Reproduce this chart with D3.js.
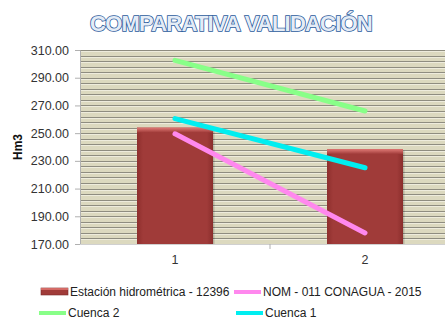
<!DOCTYPE html>
<html>
<head>
<meta charset="utf-8">
<script src="https://cdn.jsdelivr.net/npm/d3@7/dist/d3.min.js"></script>
<style>
  html, body { margin: 0; padding: 0; background: #fff; }
  svg { display: block; font-family: "Liberation Sans", Arial, sans-serif; }
</style>
</head>
<body>
<svg id="chart" width="445" height="324"></svg>
<script>
// Chart data
const categories = ["1", "2"];
const estacion = [254, 238.5];          // Estación hidrométrica - 12396 (bars)
const nom011 = [249.5, 178];            // NOM - 011 CONAGUA - 2015
const cuenca2 = [302.5, 266];           // Cuenca 2
const cuenca1 = [260.5, 225];           // Cuenca 1
const yTicks = [170, 190, 210, 230, 250, 270, 290, 310];
const gridStep = 4;

const seriesLines = [
  { name: "NOM - 011 CONAGUA - 2015", values: nom011, color: "#ff88ee" },
  { name: "Cuenca 2", values: cuenca2, color: "#88ff88" },
  { name: "Cuenca 1", values: cuenca1, color: "#00eef0" }
];

const svg = d3.select("#chart");
const plot = { left: 80, right: 460, top: 50, bottom: 244 };

const x = d3.scaleBand().domain(categories).range([plot.left, plot.right]);
const y = d3.scaleLinear().domain([170, 310]).range([plot.bottom, plot.top]);

const defs = svg.append("defs");
const barGrad = defs.append("linearGradient").attr("id", "barGrad")
  .attr("x1", 0).attr("x2", 1).attr("y1", 0).attr("y2", 0);
barGrad.append("stop").attr("offset", "0%").attr("stop-color", "#8e2f2d");
barGrad.append("stop").attr("offset", "8%").attr("stop-color", "#a03b39");
barGrad.append("stop").attr("offset", "92%").attr("stop-color", "#a03b39");
barGrad.append("stop").attr("offset", "100%").attr("stop-color", "#8a2e2c");
const topGrad = defs.append("linearGradient").attr("id", "topGrad")
  .attr("x1", 0).attr("x2", 0).attr("y1", 0).attr("y2", 1);
topGrad.append("stop").attr("offset", "0%").attr("stop-color", "#e07a76");
topGrad.append("stop").attr("offset", "100%").attr("stop-color", "#a03b39");

// Plot background
svg.append("rect")
  .attr("x", plot.left).attr("y", plot.top)
  .attr("width", plot.right - plot.left).attr("height", plot.bottom - plot.top)
  .attr("fill", "#dcd9bf");

// Horizontal grid lines every gridStep units
const gridVals = d3.range(170 + gridStep, 310 + 0.001, gridStep);
const grid = svg.append("g");
grid.selectAll("line.hl").data(gridVals).join("line")
  .attr("x1", plot.left).attr("x2", plot.right)
  .attr("y1", d => Math.round(y(d)) + 1.5).attr("y2", d => Math.round(y(d)) + 1.5)
  .attr("stroke", "#eeecdc").attr("stroke-width", 1);
grid.selectAll("line.g").data(gridVals).join("line")
  .attr("x1", plot.left).attr("x2", plot.right)
  .attr("y1", d => Math.round(y(d)) + 0.5).attr("y2", d => Math.round(y(d)) + 0.5)
  .attr("stroke", "#8f8d80").attr("stroke-width", 1);

// Bars
const barW = 76;
const bars = svg.append("g");
categories.forEach((c, i) => {
  const cx = x(c) + x.bandwidth() / 2;
  const top = y(estacion[i]);
  bars.append("rect")
    .attr("x", cx - barW / 2 + 1.5).attr("y", top + 1.5)
    .attr("width", barW).attr("height", plot.bottom - top - 1.5)
    .attr("fill", "rgba(0,0,0,0.18)");
  bars.append("rect")
    .attr("x", cx - barW / 2).attr("y", top)
    .attr("width", barW).attr("height", plot.bottom - top)
    .attr("fill", "url(#barGrad)");
  bars.append("rect")
    .attr("x", cx - barW / 2).attr("y", top)
    .attr("width", barW).attr("height", 5)
    .attr("fill", "url(#topGrad)");
});

// Lines
const line = d3.line()
  .x((d, i) => x(categories[i]) + x.bandwidth() / 2)
  .y(d => y(d));
svg.append("g").selectAll("path").data(seriesLines).join("path")
  .attr("d", d => line(d.values))
  .attr("fill", "none")
  .attr("stroke", d => d.color)
  .attr("stroke-width", 5)
  .attr("stroke-linecap", "round");

// Y axis
const yAxis = d3.axisLeft(y).tickValues(yTicks).tickSize(5).tickSizeOuter(0)
  .tickFormat(d3.format(".2f"));
const gy = svg.append("g").attr("transform", `translate(${plot.left},0)`).call(yAxis);
gy.select(".domain").attr("stroke", "#b0b0b0");
gy.selectAll(".tick line").attr("stroke", "#b0b0b0");
gy.selectAll(".tick text").attr("font-size", 12.5).attr("fill", "#333").attr("dx", -3)
  .attr("font-family", "'Liberation Sans', Arial, sans-serif");

// X axis
const xAxis = d3.axisBottom(x).tickSize(0);
const gx = svg.append("g").attr("transform", `translate(0,${plot.bottom})`).call(xAxis);
gx.select(".domain").attr("stroke", "#d0d0d0");
gx.selectAll(".tick text").attr("font-size", 12.5).attr("fill", "#333").attr("dy", 17)
  .attr("font-family", "'Liberation Sans', Arial, sans-serif");
svg.append("line")
  .attr("x1", x("2")).attr("x2", x("2"))
  .attr("y1", plot.bottom).attr("y2", plot.bottom + 5)
  .attr("stroke", "#b0b0b0");

// Y axis title
svg.append("text")
  .attr("transform", `translate(22,${(plot.top + plot.bottom) / 2}) rotate(-90)`)
  .attr("text-anchor", "middle")
  .attr("font-size", 12).attr("font-weight", "bold").attr("fill", "#111")
  .text("Hm3");

// Title
svg.append("text")
  .attr("x", 231).attr("y", 31)
  .attr("text-anchor", "middle")
  .attr("font-size", 22).attr("font-weight", "bold")
  .attr("fill", "#e4ecf6").attr("stroke", "#2a5a9c").attr("stroke-width", 1.6)
  .attr("paint-order", "stroke")
  .attr("letter-spacing", -0.8)
  .text("COMPARATIVA VALIDACIÓN");

// Legend
const legendItems = [
  { name: "Estación hidrométrica - 12396", type: "bar", x: 41, y: 292 },
  { name: seriesLines[0].name, type: "line", color: seriesLines[0].color, x: 234, y: 292 },
  { name: seriesLines[1].name, type: "line", color: seriesLines[1].color, x: 39, y: 313 },
  { name: seriesLines[2].name, type: "line", color: seriesLines[2].color, x: 236, y: 313 }
];
const lg = svg.append("g");
legendItems.forEach(it => {
  if (it.type === "bar") {
    lg.append("rect").attr("x", it.x).attr("y", it.y - 4).attr("width", 27).attr("height", 7)
      .attr("fill", "#a03b39").attr("stroke", "#7a2a28").attr("stroke-width", 0.6);
    lg.append("rect").attr("x", it.x).attr("y", it.y - 4).attr("width", 27).attr("height", 2)
      .attr("fill", "#d46a66");
  } else {
    lg.append("line").attr("x1", it.x).attr("x2", it.x + 27)
      .attr("y1", it.y).attr("y2", it.y)
      .attr("stroke", it.color).attr("stroke-width", 4);
  }
  lg.append("text").attr("x", it.x + 29).attr("y", it.y + 4)
    .attr("font-size", 12).attr("fill", "#222")
    .attr("font-family", "'Liberation Sans', Arial, sans-serif")
    .text(it.name);
});
</script>
</body>
</html>
